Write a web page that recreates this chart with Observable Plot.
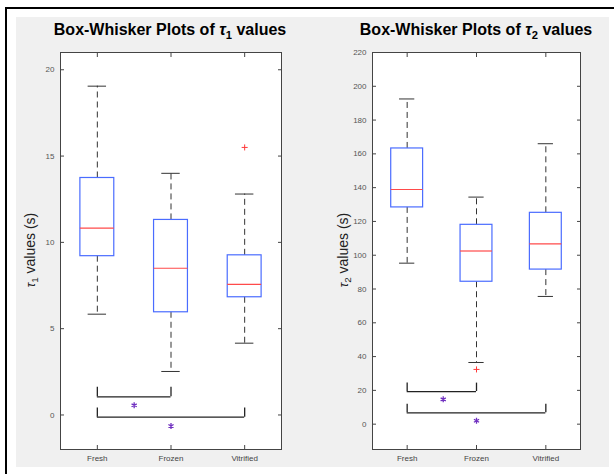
<!DOCTYPE html>
<html><head><meta charset="utf-8">
<script src="https://cdn.jsdelivr.net/npm/d3@7"></script>
<script src="https://cdn.jsdelivr.net/npm/@observablehq/plot@0.6"></script>
<style>
body{margin:0;background:#fff;width:614px;height:474px;overflow:hidden;position:relative;font-family:"Liberation Sans",Arial,sans-serif;}
#border{position:absolute;left:5px;top:7px;width:700px;height:600px;border-top:2px solid #000;border-left:2px solid #000;}
#bg{position:absolute;left:16px;top:17px;width:593px;height:450px;background:#f0f0f0;}
.panel{position:absolute;top:17px;}
.title{position:absolute;top:22px;font-weight:bold;font-size:16px;line-height:1;white-space:nowrap;transform:translateX(-50%);color:#000;}
.ylab{position:absolute;top:250px;font-size:14px;line-height:1;white-space:nowrap;transform:translate(-50%,-50%) rotate(-90deg);color:#222;}
sub{font-size:70%;vertical-align:-0.35em;line-height:0;}
.ylab i{font-size:85%;}
</style></head>
<body>
<div id="border"></div>
<div id="bg"></div>
<div id="p1" class="panel" style="left:16px"></div>
<div id="p2" class="panel" style="left:305px"></div>
<div class="title" style="left:170px">Box-Whisker Plots of <i>τ</i><sub>1</sub> values</div>
<div class="title" style="left:476px">Box-Whisker Plots of <i>τ</i><sub>2</sub> values</div>
<div class="ylab" style="left:30px"><i>τ</i><sub>1</sub> values (s)</div>
<div class="ylab" style="left:343px"><i>τ</i><sub>2</sub> values (s)</div>
<script>
const categories = ["Fresh", "Frozen", "Vitrified"];

// tau1 box statistics (s)
const tau1Lower  = [5.84, 2.52, 4.16];
const tau1Q1     = [9.2, 5.95, 6.82];
const tau1Median = [10.83, 8.5, 7.57];
const tau1Q3     = [13.73, 11.3, 9.25];
const tau1Upper  = [19.05, 14.0, 12.8];
const tau1OutlierGroup = [3];
const tau1OutlierValue = [15.5];
const tau1Ticks = [0, 5, 10, 15, 20];
const tau1Domain = [-2, 21];
// significance brackets
const tau1BracketFrom = [1, 1];
const tau1BracketTo   = [2, 3];
const tau1BracketLevel = [1.05, -0.13];
const tau1BracketTop   = [1.6, 0.4];
const tau1StarX = [1.5, 2];
const tau1StarY = [0.56, -0.64];

// tau2 box statistics (s)
const tau2Lower  = [95.3, 36.5, 75.6];
const tau2Q1     = [128.3, 84.3, 91.5];
const tau2Median = [138.9, 102.5, 106.7];
const tau2Q3     = [163.2, 118.0, 125.1];
const tau2Upper  = [192.5, 134.4, 166.0];
const tau2OutlierGroup = [2];
const tau2OutlierValue = [32.4];
const tau2Ticks = [0, 20, 40, 60, 80, 100, 120, 140, 160, 180, 200, 220];
const tau2Domain = [-15, 220];
const tau2BracketFrom = [1, 1];
const tau2BracketTo   = [2, 3];
const tau2BracketLevel = [19.3, 6.7];
const tau2BracketTop   = [24.3, 11.8];
const tau2StarX = [1.52, 2];
const tau2StarY = [14.7, 2];

function panel(o) {
  const rows = categories.map((c, i) => ({pos: i + 1, lo: o.lower[i], q1: o.q1[i], med: o.median[i], q3: o.q3[i], hi: o.upper[i]}));
  const outs = o.outGroup.map((g, i) => ({pos: g, v: o.outValue[i]}));
  const br = o.bFrom.map((f, i) => ({from: f, to: o.bTo[i], level: o.bLevel[i], top: o.bTop[i]}));
  const stars = o.starX.map((x, i) => ({x, y: o.starY[i]}));
  const bw = 0.23, cw = o.cap;
  const axisCol = "#444";
  return Plot.plot({
    width: o.width, height: 450,
    marginLeft: o.ml, marginRight: o.mr, marginTop: 35, marginBottom: 18,
    style: {background: "transparent", fontFamily: "Liberation Sans, Arial, sans-serif", fontSize: "8px", color: "#555", overflow: "visible"},
    x: {type: "linear", domain: [0.5, 3.5]},
    y: {domain: o.domain},
    marks: [
      Plot.frame({fill: "white", stroke: null}),
      Plot.axisY({ticks: o.ticks, tickSize: 0, tickPadding: 6, label: null, fill: "#555"}),
      Plot.axisY({ticks: o.ticks, anchor: "left", tickSize: -4, tickFormat: () => "", label: null, stroke: axisCol}),
      Plot.axisY({ticks: o.ticks, anchor: "right", tickSize: -4, tickFormat: () => "", label: null, stroke: axisCol}),
      Plot.axisX({ticks: [1, 2, 3], tickFormat: i => categories[i - 1], tickSize: 0, tickPadding: 6, label: null, fill: "#444"}),
      Plot.axisX({ticks: [1, 2, 3], anchor: "bottom", tickSize: -4, tickFormat: () => "", label: null, stroke: axisCol}),
      Plot.axisX({ticks: [1, 2, 3], anchor: "top", tickSize: -4, tickFormat: () => "", label: null, stroke: axisCol}),
      // whiskers
      Plot.ruleX(rows, {x: "pos", y1: "q3", y2: "hi", stroke: "#333", strokeDasharray: "6 4"}),
      Plot.ruleX(rows, {x: "pos", y1: "q1", y2: "lo", stroke: "#333", strokeDasharray: "6 4"}),
      Plot.ruleY(rows, {y: "hi", x1: d => d.pos - cw, x2: d => d.pos + cw, stroke: "#333"}),
      Plot.ruleY(rows, {y: "lo", x1: d => d.pos - cw, x2: d => d.pos + cw, stroke: "#333"}),
      // boxes
      Plot.rect(rows, {x1: d => d.pos - bw, x2: d => d.pos + bw, y1: "q1", y2: "q3", fill: "none", stroke: "#4a6cff", strokeWidth: 1.2}),
      Plot.ruleY(rows, {y: "med", x1: d => d.pos - bw, x2: d => d.pos + bw, stroke: "#ff4a4a", strokeWidth: 1.2}),
      // outliers
      Plot.dot(outs, {x: "pos", y: "v", symbol: "plus", r: 2.1, stroke: "#ff3a3a", strokeWidth: 1}),
      // brackets
      Plot.ruleY(br, {y: "level", x1: "from", x2: "to", stroke: "#222", strokeWidth: 1.3}),
      Plot.ruleX(br, {x: "from", y1: "level", y2: "top", stroke: "#222", strokeWidth: 1.3}),
      Plot.ruleX(br, {x: "to", y1: "level", y2: "top", stroke: "#222", strokeWidth: 1.3}),
      Plot.dot(stars, {x: "x", y: "y", symbol: "asterisk", r: 2.8, stroke: "#7030c0", strokeWidth: 1.3}),
      Plot.frame({stroke: axisCol})
    ]
  });
}

document.getElementById("p1").append(panel({
  width: 289, ml: 44, mr: 24, cap: 0.125,
  lower: tau1Lower, q1: tau1Q1, median: tau1Median, q3: tau1Q3, upper: tau1Upper,
  outGroup: tau1OutlierGroup, outValue: tau1OutlierValue,
  ticks: tau1Ticks, domain: tau1Domain,
  bFrom: tau1BracketFrom, bTo: tau1BracketTo, bLevel: tau1BracketLevel, bTop: tau1BracketTop,
  starX: tau1StarX, starY: tau1StarY
}));
document.getElementById("p2").append(panel({
  width: 304, ml: 67, mr: 29, cap: 0.11,
  lower: tau2Lower, q1: tau2Q1, median: tau2Median, q3: tau2Q3, upper: tau2Upper,
  outGroup: tau2OutlierGroup, outValue: tau2OutlierValue,
  ticks: tau2Ticks, domain: tau2Domain,
  bFrom: tau2BracketFrom, bTo: tau2BracketTo, bLevel: tau2BracketLevel, bTop: tau2BracketTop,
  starX: tau2StarX, starY: tau2StarY
}));
</script>
</body></html>
